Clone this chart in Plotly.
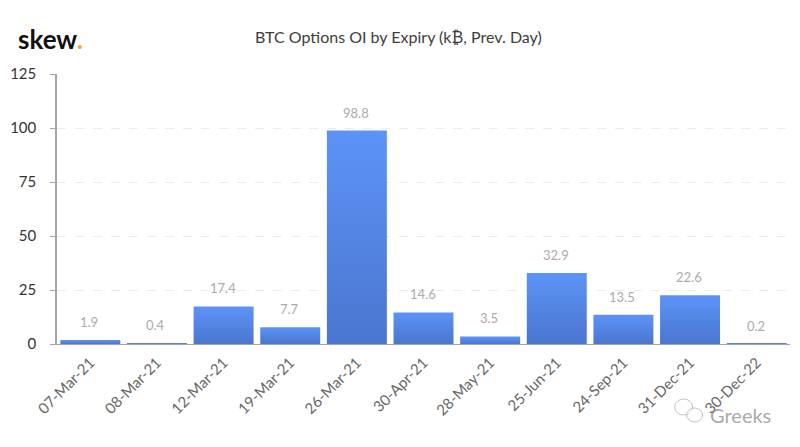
import plotly.graph_objects as go

expiries = ["07-Mar-21", "08-Mar-21", "12-Mar-21", "19-Mar-21", "26-Mar-21", "30-Apr-21",
            "28-May-21", "25-Jun-21", "24-Sep-21", "31-Dec-21", "30-Dec-22"]
open_interest = [1.9, 0.4, 17.4, 7.7, 98.8, 14.6, 3.5, 32.9, 13.5, 22.6, 0.2]
y_ticks = [0, 25, 50, 75, 100, 125]
title_text = "BTC Options OI by Expiry (k₿, Prev. Day)"

FONT = "Lato, Carlito, 'Open Sans', sans-serif"
W, H = 800, 447
L, R, T, B = 56.5, 790.5, 74, 344

def px_x(p):
    return (p - L) / (R - L)

def px_y(p):
    return 1 - (p - T) / (B - T)

fig = go.Figure(go.Bar(x=expiries, y=open_interest, width=0.9,
                       marker=dict(color="#5283e0", line=dict(width=0)),
                       hoverinfo="x+y", showlegend=False))

annotations = [dict(x=c, y=v, text=f"{v}", showarrow=False, yanchor="bottom", yshift=8, xshift=-1,
                    font=dict(family=FONT, size=13, color="#ababab"))
               for c, v in zip(expiries, open_interest)]
annotations += [
    dict(xref="paper", yref="paper", x=px_x(398.5), y=px_y(37), yanchor="middle", text=title_text,
         showarrow=False, font=dict(family=FONT, size=16, color="#3d3d3d")),
    dict(xref="paper", yref="paper", x=px_x(15), y=px_y(39), xanchor="left", yanchor="middle",
         text="<b>skew</b><b style='color:#f5a623'>.</b>", showarrow=False,
         font=dict(family=FONT, size=26, color="#111111")),
    dict(xref="paper", yref="paper", x=px_x(708), y=px_y(415), xanchor="left", yanchor="middle",
         text="Greeks", showarrow=False,
         font=dict(family=FONT, size=20, color="rgba(130,130,130,0.7)")),
]

def bubble(cx, cy, rx, ry):
    return dict(type="circle", xref="paper", yref="paper",
                x0=px_x(cx - rx), x1=px_x(cx + rx), y0=px_y(cy + ry), y1=px_y(cy - ry),
                line=dict(color="rgba(170,170,170,0.7)", width=1), fillcolor="rgba(255,255,255,0.6)")

fig.update_layout(
    width=W, height=H, autosize=False,
    margin=dict(l=L, r=W - R, t=T, b=H - B),
    paper_bgcolor="white", plot_bgcolor="white",
    font=dict(family=FONT),
    bargap=0.1,
    annotations=annotations,
    shapes=[bubble(684, 407, 9, 8), bubble(695, 415, 8, 7)],
    xaxis=dict(type="category", tickangle=-45, showgrid=False, ticks="",
               ticklabelstandoff=3,
               showline=True, linecolor="#a6a6a6", linewidth=1,
               tickfont=dict(family=FONT, size=15, color="#666666")),
    yaxis=dict(range=[0, 125], tickvals=y_ticks, ticks="outside", ticklen=5, tickcolor="#a6a6a6",
               ticklabelstandoff=11,
               showline=True, linecolor="#a6a6a6", linewidth=1.5, zeroline=False,
               gridcolor="#ececec", griddash="dash", gridwidth=1,
               tickfont=dict(family=FONT, size=15, color="#333333")),
)

post = """
document.body.style.margin='0';
document.documentElement.style.overflow='hidden';
var gd = document.getElementsByClassName('plotly-graph-div')[0];
function grad(){
  var svg = gd.querySelector('svg.main-svg');
  if(!svg.querySelector('#barGrad')){
    var ns='http://www.w3.org/2000/svg';
    var d=document.createElementNS(ns,'defs');
    var g=document.createElementNS(ns,'linearGradient');
    g.setAttribute('id','barGrad');g.setAttribute('x1','0');g.setAttribute('y1','0');g.setAttribute('x2','0');g.setAttribute('y2','1');
    [['0','#5d93f7'],['1','#4a76cf']].forEach(function(s){
      var e=document.createElementNS(ns,'stop');e.setAttribute('offset',s[0]);e.setAttribute('stop-color',s[1]);g.appendChild(e);});
    d.appendChild(g);svg.insertBefore(d,svg.firstChild);
  }
  gd.querySelectorAll('.bars .point path').forEach(function(p){p.style.fill='url(#barGrad)';});
}
grad();
gd.on('plotly_afterplot',grad);
"""
fig.write_html("out.html", post_script=post, config=dict(displayModeBar=False))
